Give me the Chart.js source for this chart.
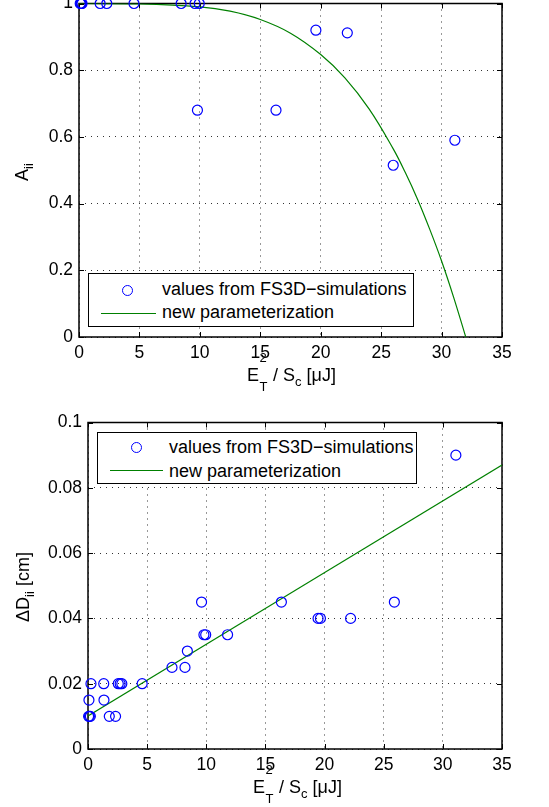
<!DOCTYPE html>
<html lang="en">
<head>
<meta charset="UTF-8">
<title>A_ii and dD_ii vs E_T^2 / S_c</title>
<script src="https://cdn.jsdelivr.net/npm/chart.js"></script>
<style>
  html, body { margin: 0; padding: 0; background: #fff; }
  body { width: 549px; height: 807px; position: relative; overflow: hidden;
         font-family: "Liberation Sans", Arial, sans-serif; color: #000; }
  .plot { position: absolute; left: 0; }
  #plotTop { top: -20px; }
  #plotBot { top: 400px; }

  .legend { position: absolute; background: #fff; border: 1.5px solid #000; box-sizing: border-box; }
  .legend .txt { position: absolute; font-size: 18px; line-height: 21px; white-space: nowrap; }
  .legend .dot { position: absolute; width: 11px; height: 11px; box-sizing: border-box;
                 border: 1.2px solid #0000ff; border-radius: 50%; }
  .legend .ln { position: absolute; height: 1px; background: #008000; }

  .xt { position: absolute; font-size: 18px; line-height: 18px; white-space: nowrap; }
  .xt .st { position: relative; display: inline-block; width: 9px; height: 1px; }
  .xt .s2 { position: absolute; left: 0.5px; bottom: 17px; font-size: 13px; line-height: 13px; }
  .xt .sT { position: absolute; left: 0.5px; top: 0px; font-size: 13px; line-height: 13px; }
  .xt .sc { position: relative; top: 5px; font-size: 13px; }

  .yt { position: absolute; font-size: 18px; line-height: 18px; white-space: nowrap;
        transform: translate(-50%, -50%) rotate(-90deg); }
  .yt .sb { position: relative; top: 5px; font-size: 13px; }
</style>
</head>
<body>

<div class="plot" id="plotTop"><canvas id="chartTop" width="549" height="420"></canvas></div>
<div class="plot" id="plotBot"><canvas id="chartBot" width="549" height="407"></canvas></div>

<!-- legends -->
<div class="legend" style="left:88px; top:273px; width:326px; height:54px;">
  <div class="dot" style="left:32.5px; top:10.5px;"></div>
  <div class="txt" style="left:73px; top:5px;">values from FS3D&#8722;simulations</div>
  <div class="ln" style="left:12px; top:38.5px; width:55px;"></div>
  <div class="txt" style="left:73px; top:28px;">new parameterization</div>
</div>
<div class="legend" style="left:97px; top:432px; width:320px; height:52px;">
  <div class="dot" style="left:33px; top:9px;"></div>
  <div class="txt" style="left:71px; top:3.5px;">values from FS3D&#8722;simulations</div>
  <div class="ln" style="left:12px; top:37px; width:53px;"></div>
  <div class="txt" style="left:71px; top:27.5px;">new parameterization</div>
</div>

<!-- axis titles -->
<div class="xt" style="left:247px; top:366px;">E<span class="st"><span class="s2">2</span><span class="sT">T</span></span> / S<span class="sc">c</span> [&#956;J]</div>
<div class="xt" style="left:253px; top:778px;">E<span class="st"><span class="s2">2</span><span class="sT">T</span></span> / S<span class="sc">c</span> [&#956;J]</div>
<div class="yt" style="left:23px; top:172px;">A<span class="sb">ii</span></div>
<div class="yt" style="left:24px; top:587px;">&#916;D<span class="sb">ii</span> [cm]</div>

<script>
    // ticks
    const xTicks = [0, 5, 10, 15, 20, 25, 30, 35];
    const yTicksTop = [0, 0.2, 0.4, 0.6, 0.8, 1];
    const yTicksBot = [0, 0.02, 0.04, 0.06, 0.08, 0.1];

    // oben: A_ii, Simulationswerte
    const aSimX = [0.1, 0.15, 0.2, 0.25, 1.75, 2.3, 4.55, 8.45, 9.6, 9.95, 9.8, 16.3, 19.6, 22.2, 26.0, 31.1];
    const aSimY = [1, 1, 1, 1, 1, 1, 1, 1, 1, 1, 0.68, 0.68, 0.92, 0.912, 0.515, 0.59];
    // oben: neue Parametrisierung
    const aParX = [0, 5, 10, 12.5, 15, 17.5, 20, 22, 24, 26, 27, 28, 29, 30, 31, 32];
    const aParY = [1, 0.999, 0.99, 0.977, 0.952, 0.911, 0.847, 0.777, 0.684, 0.564, 0.493, 0.414, 0.325, 0.228, 0.119, 0];

    // unten: Delta D_ii, Simulationswerte
    const dSimX = [31.1, 9.6, 16.35, 25.9, 19.45, 19.65, 22.2, 9.8, 9.95, 11.8, 8.4, 7.1, 8.2,
                   0.25, 1.33, 2.56, 2.72, 2.86, 4.58, 0.08, 1.35, 0.05, 0.12, 0.2, 1.8, 2.33];
    const dSimY = [0.09, 0.045, 0.045, 0.045, 0.04, 0.04, 0.04, 0.035, 0.035, 0.035, 0.03, 0.025, 0.025,
                   0.02, 0.02, 0.02, 0.02, 0.02, 0.02, 0.015, 0.015, 0.01, 0.01, 0.01, 0.01, 0.01];
    // unten: neue Parametrisierung
    const dParX = [0, 35];
    const dParY = [0.0101, 0.087];

    Chart.defaults.font.family = "'Liberation Sans', Arial, sans-serif";
    Chart.defaults.font.size = 17.5;
    Chart.defaults.color = '#000';

    function pontos(xs, ys) {
        return xs.map((x, i) => ({ x: x, y: ys[i] }));
    }

    // Rahmen + Ticks nach innen (wie matlab)
    const rahmen = {
        id: 'rahmen',
        beforeDatasetsDraw(chart) {
            const { ctx, chartArea: a, scales } = chart;
            ctx.save();
            ctx.strokeStyle = '#000';
            ctx.lineWidth = 1;
            ctx.beginPath();
            scales.x.ticks.forEach(t => {
                const px = Math.round(scales.x.getPixelForValue(t.value)) + 0.5;
                ctx.moveTo(px, a.bottom); ctx.lineTo(px, a.bottom - 5);
                ctx.moveTo(px, a.top); ctx.lineTo(px, a.top + 5);
            });
            scales.y.ticks.forEach(t => {
                const py = Math.round(scales.y.getPixelForValue(t.value)) + 0.5;
                ctx.moveTo(a.left, py); ctx.lineTo(a.left + 5, py);
                ctx.moveTo(a.right, py); ctx.lineTo(a.right - 5, py);
            });
            ctx.stroke();
            ctx.lineWidth = 1.5;
            ctx.strokeRect(a.left, a.top, a.right - a.left, a.bottom - a.top);
            ctx.restore();
        }
    };

    function montar(idCanvas, simX, simY, parX, parY, yTicks, yMax, yWidth, padding) {
        const config = {
            type: 'scatter',
            data: {
                datasets: [{
                    label: 'values from FS3D-simulations',
                    data: pontos(simX, simY),
                    pointStyle: 'circle',
                    pointRadius: 5,
                    borderColor: '#0000ff',
                    backgroundColor: 'rgba(0,0,0,0)',
                    borderWidth: 1.2,
                    clip: false
                }, {
                    label: 'new parameterization',
                    type: 'line',
                    data: pontos(parX, parY),
                    borderColor: '#008000',
                    borderWidth: 1.2,
                    pointRadius: 0,
                    tension: 0.4,
                    fill: false
                }]
            },
            options: {
                responsive: false,
                animation: false,
                events: [],
                layout: { padding: padding },
                plugins: { legend: { display: false }, tooltip: { enabled: false } },
                scales: {
                    x: {
                        type: 'linear', min: 0, max: 35,
                        afterBuildTicks: s => { s.ticks = xTicks.map(v => ({ value: v })); },
                        afterFit: s => { s.height = 40; s.paddingLeft = 0; s.paddingRight = 0; },
                        ticks: { padding: 6, maxRotation: 0, autoSkip: false, callback: v => String(v) },
                        grid: { color: '#333', lineWidth: 1, drawTicks: false },
                        border: { display: false, dash: [1, 5] }
                    },
                    y: {
                        type: 'linear', min: 0, max: yMax,
                        afterBuildTicks: s => { s.ticks = yTicks.map(v => ({ value: v })); },
                        afterFit: s => { s.width = yWidth; s.paddingTop = 0; s.paddingBottom = 0; },
                        ticks: { padding: 6, autoSkip: false, callback: v => String(v) },
                        grid: { color: '#333', lineWidth: 1, drawTicks: false },
                        border: { display: false, dash: [1, 5] }
                    }
                }
            },
            plugins: [rahmen]
        };
        return new Chart(document.getElementById(idCanvas), config);
    }

    montar('chartTop', aSimX, aSimY, aParX, aParY, yTicksTop, 1, 79,
        { left: 0, right: 47, top: 23.5, bottom: 23 });
    montar('chartBot', dSimX, dSimY, dParX, dParY, yTicksBot, 0.1, 88,
        { left: 0, right: 47, top: 22.5, bottom: 18 });
</script>
</body>
</html>
